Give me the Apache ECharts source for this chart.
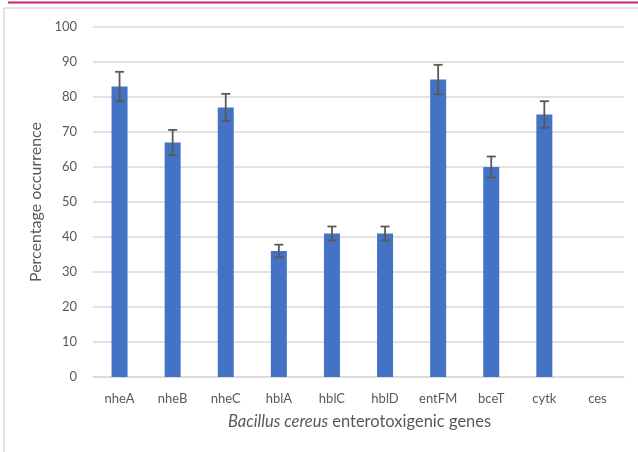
<!DOCTYPE html>
<html>
<head>
<meta charset="utf-8">
<script src="https://cdn.jsdelivr.net/npm/echarts@6/dist/echarts.min.js"></script>
<style>
  html, body { margin: 0; padding: 0; background: #fff; }
  #chart { width: 638px; height: 452px; }
</style>
</head>
<body>
<div id="chart"></div>
<script>
// 基因类别与出现率
const genes = ["nheA", "nheB", "nheC", "hblA", "hblC", "hblD", "entFM", "bceT", "cytk", "ces"];
const percent = [83, 67, 77, 36, 41, 41, 85, 60, 75, 0];
const errors = [4.2, 3.6, 3.9, 1.8, 2, 2, 4.2, 3, 3.8, 0];
const yTicks = [0, 10, 20, 30, 40, 50, 60, 70, 80, 90, 100];

const font = "Lato, 'Open Sans', sans-serif";
const chart = echarts.init(document.getElementById("chart"));

// 误差线
const errData = genes.map((g, i) => [i, percent[i] - errors[i], percent[i] + errors[i]]);

chart.setOption({
  animation: false,
  grid: { left: 93, right: 14, top: 27, bottom: 75 },
  graphic: [
    { type: "line", shape: { x1: 8, y1: 2.5, x2: 638, y2: 2.5 }, style: { stroke: "#c0267a", lineWidth: 2 } },
    { type: "line", shape: { x1: 4, y1: 8, x2: 638, y2: 8 }, style: { stroke: "#d9d9d9", lineWidth: 1.5 } },
    { type: "line", shape: { x1: 4, y1: 8, x2: 4, y2: 452 }, style: { stroke: "#d9d9d9", lineWidth: 1.5 } },
    {
      type: "text", left: 228, top: 413,
      style: {
        text: "{i|Bacillus cereus} enterotoxigenic genes",
        rich: { i: { fontStyle: "italic", fontFamily: font, fontSize: 16.5, fill: "#595959" } },
        fontFamily: font, fontSize: 16.5, fill: "#595959"
      }
    }
  ],
  xAxis: {
    type: "category",
    data: genes,
    axisLine: { lineStyle: { color: "#d9d9d9", width: 1.5 } },
    axisTick: { show: false },
    axisLabel: { color: "#595959", fontFamily: font, fontSize: 13, margin: 15 }
  },
  yAxis: {
    type: "value",
    min: 0, max: 100, interval: 10,
    name: "Percentage occurrence",
    nameLocation: "middle",
    nameGap: 46,
    nameTextStyle: { color: "#595959", fontFamily: font, fontSize: 16 },
    axisLine: { show: false },
    axisTick: { show: false },
    axisLabel: { color: "#595959", fontFamily: font, fontSize: 13, margin: 16 },
    splitLine: { lineStyle: { color: "#d9d9d9", width: 1.5 } }
  },
  series: [
    {
      type: "bar",
      data: percent,
      barWidth: 16,
      itemStyle: { color: "#4472c4" }
    },
    {
      type: "custom",
      data: errData,
      renderItem: (params, api) => {
        if (api.value(2) - api.value(1) <= 0) return null;
        const lo = api.coord([api.value(0), api.value(1)]);
        const hi = api.coord([api.value(0), api.value(2)]);
        const w = 4.5;
        const st = { stroke: "#595959", lineWidth: 1.8 };
        return {
          type: "group",
          children: [
            { type: "line", shape: { x1: hi[0], y1: hi[1], x2: lo[0], y2: lo[1] }, style: st },
            { type: "line", shape: { x1: hi[0] - w, y1: hi[1], x2: hi[0] + w, y2: hi[1] }, style: st },
            { type: "line", shape: { x1: lo[0] - w, y1: lo[1], x2: lo[0] + w, y2: lo[1] }, style: st }
          ]
        };
      },
      z: 5
    }
  ]
});
</script>
</body>
</html>
